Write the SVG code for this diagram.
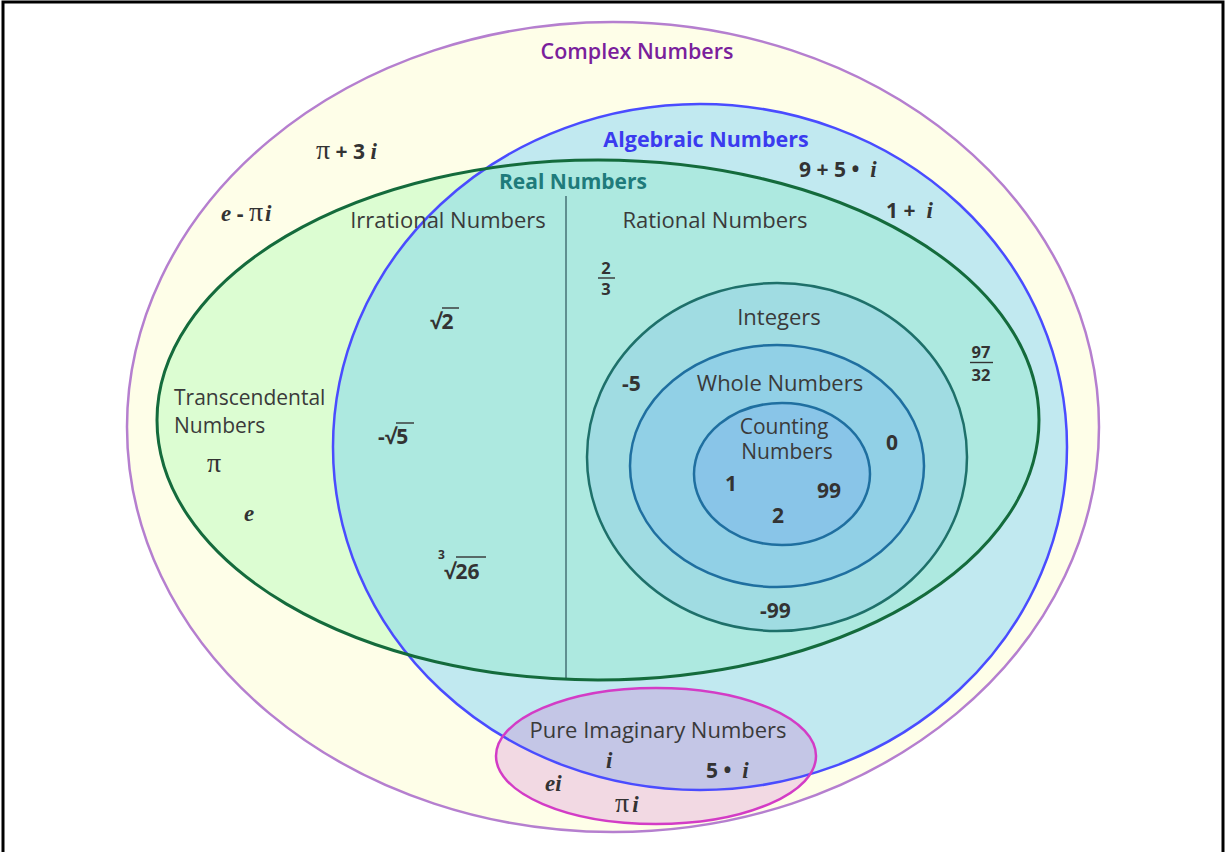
<svg xmlns="http://www.w3.org/2000/svg" width="1225" height="852" viewBox="0 0 1225 852">
<style>
.lbl{font-family:"Open Sans","Noto Sans",sans-serif;font-size:22px;fill:#3a3a3a;text-anchor:middle}
.lbll{font-family:"Open Sans","Noto Sans",sans-serif;font-size:21px;fill:#3a3a3a}
.ttl{font-family:"Open Sans","Noto Sans",sans-serif;font-size:21.5px;font-weight:700;text-anchor:middle}
.num{font-family:"Open Sans","Noto Sans",sans-serif;font-size:21px;font-weight:700;fill:#333}
.it{font-family:"Liberation Serif","DejaVu Serif",serif;font-style:italic;font-weight:700;font-size:23px}
.pi{font-family:"Liberation Serif","DejaVu Serif",serif;font-weight:400;font-size:28px}
.frac{font-family:"Open Sans","Noto Sans",sans-serif;font-size:16.5px;font-weight:700;fill:#333;text-anchor:middle}
.bar{stroke:#333;stroke-width:1.4}
</style>
<defs>
<clipPath id="clipReal"><ellipse cx="598" cy="420" rx="441" ry="260"/></clipPath>
<clipPath id="clipAlg"><ellipse cx="700" cy="447" rx="367" ry="343"/></clipPath>
</defs>
<rect x="0" y="0" width="1225" height="852" fill="#fff"/>
<path d="M3,852 V2 H1223 V852" fill="none" stroke="#000" stroke-width="3"/>

<g id="complex">
<ellipse cx="613" cy="427" rx="486" ry="405" fill="#fefee8" stroke="#b57fcf" stroke-width="2.5"/>
</g>
<g id="algebraic">
<ellipse cx="700" cy="447" rx="367" ry="343" fill="#c1e9f0"/>
</g>
<g id="real">
<ellipse cx="598" cy="420" rx="441" ry="260" fill="#dcfdd2"/>
<ellipse cx="700" cy="447" rx="367" ry="343" fill="#ade9e0" clip-path="url(#clipReal)"/>
<line x1="566" y1="196" x2="566" y2="680" stroke="#5f8f90" stroke-width="2"/>
</g>
<g id="pure-imaginary">
<ellipse cx="656" cy="756" rx="160" ry="68" fill="#f2d9e3"/>
<ellipse cx="656" cy="756" rx="160" ry="68" fill="#c4c6e6" clip-path="url(#clipAlg)"/>
</g>
<g id="connectors">
<ellipse cx="700" cy="447" rx="367" ry="343" fill="none" stroke="#4a4cff" stroke-width="2.5"/>
<ellipse cx="598" cy="420" rx="441" ry="260" fill="none" stroke="#146b3c" stroke-width="3"/>
<ellipse cx="656" cy="756" rx="160" ry="68" fill="none" stroke="#d33cc6" stroke-width="2.5"/>
</g>
<g id="integers">
<ellipse cx="777" cy="457" rx="190" ry="174" fill="#a0dce2" stroke="#1e706a" stroke-width="2.5"/>
</g>
<g id="whole">
<ellipse cx="777" cy="466" rx="147" ry="121" fill="#91d0e6" stroke="#1f6fa0" stroke-width="2.5"/>
</g>
<g id="counting">
<ellipse cx="782" cy="474" rx="88" ry="71" fill="#89c5e8" stroke="#1f6fa0" stroke-width="2.5"/>
</g>

<g id="labels">
<text x="637" y="59" class="ttl" style="font-weight:600;fill:#7a1f9c">Complex Numbers</text>
<text x="706" y="147" class="ttl" style="fill:#3b3bef">Algebraic Numbers</text>
<text x="573" y="189" class="ttl" style="fill:#1f7b7b;font-size:21px">Real Numbers</text>
<text x="448" y="228" class="lbl">Irrational Numbers</text>
<text x="715" y="228" class="lbl">Rational Numbers</text>
<text x="174" y="405" class="lbll">Transcendental</text>
<text x="174" y="433" class="lbll">Numbers</text>
<text x="779" y="325" class="lbl">Integers</text>
<text x="780" y="391" class="lbl">Whole Numbers</text>
<text x="784" y="434" class="lbl" style="font-size:21px">Counting</text>
<text x="787" y="459" class="lbl" style="font-size:21px">Numbers</text>
<text x="658" y="738" class="lbl">Pure Imaginary Numbers</text>
</g>

<g id="numbers">
<text x="316" y="159" class="num"><tspan class="pi">π</tspan> + 3 <tspan class="it">i</tspan></text>
<text x="221" y="221" class="num"><tspan class="it">e</tspan> - <tspan class="pi">π</tspan><tspan class="it" dx="2">i</tspan></text>
<text x="799" y="177" class="num" xml:space="preserve">9 + 5 •  <tspan class="it">i</tspan></text>
<text x="886" y="218" class="num" xml:space="preserve">1 +  <tspan class="it">i</tspan></text>

<text x="606" y="274" class="frac">2</text>
<line x1="598" y1="278" x2="615" y2="278" class="bar"/>
<text x="606" y="295" class="frac">3</text>

<text x="981" y="358" class="frac">97</text>
<line x1="970" y1="362.5" x2="993" y2="362.5" class="bar"/>
<text x="981" y="381" class="frac">32</text>

<text x="430" y="329" class="num">√2</text>
<line x1="442" y1="308" x2="459" y2="308" class="bar"/>
<text x="378" y="444" class="num">-√5</text>
<line x1="396" y1="423" x2="414" y2="423" class="bar"/>
<text x="438" y="559" class="num" style="font-size:12px">3</text>
<text x="444" y="579" class="num">√26</text>
<line x1="456" y1="557" x2="486" y2="557" class="bar"/>

<text x="207" y="472" class="num"><tspan class="pi">π</tspan></text>
<text x="244" y="521" class="num"><tspan class="it">e</tspan></text>

<text x="622" y="391" class="num">-5</text>
<text x="886" y="450" class="num">0</text>
<text x="725" y="491" class="num">1</text>
<text x="817" y="498" class="num">99</text>
<text x="772" y="523" class="num">2</text>
<text x="760" y="618" class="num">-99</text>

<text x="606" y="768" class="num"><tspan class="it">i</tspan></text>
<text x="706" y="778" class="num" xml:space="preserve">5 •  <tspan class="it">i</tspan></text>
<text x="545" y="791" class="num"><tspan class="it">ei</tspan></text>
<text x="615" y="812" class="num"><tspan class="pi">π</tspan><tspan class="it" dx="3">i</tspan></text>
</g>
</svg>
